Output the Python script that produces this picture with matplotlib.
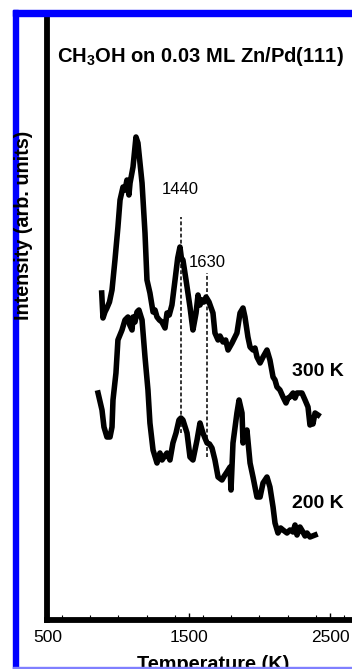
import numpy as np
import matplotlib
matplotlib.use('Agg')
import matplotlib.pyplot as plt
from matplotlib.patches import Rectangle
from matplotlib.ticker import FixedLocator, MultipleLocator

plt.rcParams['font.family'] = ['Liberation Sans', 'DejaVu Sans']
plt.rcParams['mathtext.fontset'] = 'custom'
plt.rcParams['mathtext.rm'] = 'Liberation Sans'
plt.rcParams['mathtext.bf'] = 'Liberation Sans:bold'

# Espectro a 300 K (temperatura en K, intensidad en unidades arbitrarias)
t_300 = [881, 890, 904, 918, 936, 954, 975, 996, 1011, 1032, 1046, 1060, 1074, 1082, 1103,
         1124, 1138, 1167, 1188, 1202, 1223, 1245, 1259, 1273, 1290, 1308, 1330, 1344,
         1360, 1379, 1401, 1420, 1436, 1446, 1457, 1479, 1507, 1528, 1550, 1564, 1578,
         1592, 1606, 1621, 1642, 1670, 1684, 1706, 1720, 1741, 1760, 1777, 1805, 1840,
         1862, 1883, 1897, 1918, 1933, 1954, 1968, 1982, 2004, 2025, 2053, 2074, 2096,
         2110, 2124, 2145, 2167, 2188, 2202, 2216, 2238, 2252, 2266, 2301, 2323, 2344,
         2358, 2372, 2379, 2394, 2415]
i_300 = [3.27, 3.02, 3.08, 3.12, 3.18, 3.30, 3.60, 3.93, 4.20, 4.33, 4.30, 4.40, 4.25, 4.37,
         4.53, 4.83, 4.77, 4.37, 3.87, 3.40, 3.27, 3.08, 3.10, 3.03, 3.00, 2.98, 2.92,
         3.07, 3.05, 3.15, 3.40, 3.62, 3.73, 3.62, 3.60, 3.40, 3.13, 2.90, 3.07, 3.25,
         3.15, 3.20, 3.18, 3.23, 3.18, 3.07, 2.87, 2.80, 2.84, 2.78, 2.80, 2.70, 2.77,
         2.87, 3.07, 3.12, 3.03, 2.83, 2.73, 2.70, 2.72, 2.63, 2.57, 2.63, 2.70, 2.60,
         2.43, 2.40, 2.33, 2.30, 2.23, 2.17, 2.22, 2.23, 2.27, 2.22, 2.27, 2.27, 2.20,
         2.13, 1.95, 2.00, 1.96, 2.07, 2.05]

# Espectro a 200 K
t_200 = [855, 883, 897, 918, 940, 954, 961, 982, 996, 1025, 1046, 1067, 1080, 1096, 1103,
         1117, 1131, 1145, 1167, 1188, 1209, 1223, 1245, 1273, 1294, 1309, 1323, 1344,
         1365, 1386, 1408, 1429, 1443, 1457, 1486, 1507, 1528, 1557, 1578, 1599, 1613,
         1628, 1645, 1663, 1684, 1706, 1734, 1750, 1769, 1791, 1798, 1812, 1840, 1855,
         1876, 1883, 1911, 1933, 1954, 1982, 2004, 2025, 2053, 2074, 2096, 2110, 2131,
         2150, 2167, 2195, 2216, 2238, 2252, 2266, 2287, 2308, 2323, 2337, 2358, 2394]
i_200 = [2.27, 2.10, 1.93, 1.83, 1.83, 1.93, 2.20, 2.47, 2.80, 2.90, 3.00, 3.03, 2.95, 2.90,
         3.03, 2.98, 3.08, 3.10, 3.00, 2.63, 2.30, 1.97, 1.70, 1.57, 1.67, 1.60, 1.63,
         1.67, 1.60, 1.77, 1.87, 2.00, 2.02, 2.00, 1.87, 1.63, 1.60, 1.80, 1.97, 1.87,
         1.82, 1.77, 1.76, 1.72, 1.60, 1.43, 1.40, 1.44, 1.48, 1.53, 1.30, 1.77, 2.07,
         2.20, 2.07, 1.77, 1.90, 1.57, 1.43, 1.23, 1.23, 1.37, 1.43, 1.33, 1.13, 0.97,
         0.87, 0.92, 0.90, 0.87, 0.90, 0.88, 0.95, 0.85, 0.93, 0.88, 0.84, 0.87, 0.83,
         0.85]

# Picos marcados: posicion, extremo superior e inferior de la linea punteada
picos = [1440, 1630]
pico_sup = [4.03, 3.47]
pico_inf = [1.87, 1.63]
etiq_y = [4.31, 3.57]

# Ticks del eje x
ticks_x = [500, 1500, 2500]

W, H = 352, 669
fig = plt.figure(figsize=(W / 100, H / 100), dpi=100)


def px(x, y):
    # pixeles (desde arriba a la izquierda) a fraccion de figura
    return x / W, 1 - y / H


ax = fig.add_axes([47 / W, 49 / H, 305 / W, 604 / H])
ax.plot(t_300, i_300, color='black', lw=4, solid_joinstyle='round')
ax.plot(t_200, i_200, color='black', lw=4, solid_joinstyle='round')

for p, s, i, ey in zip(picos, pico_sup, pico_inf, etiq_y):
    ax.plot([p, p], [i, s], color='black', lw=1.1, ls=(0, (2.5, 1.5)))
    ax.text(p, ey, str(p), ha='center', va='center', fontsize=12)

ax.text(2230, 2.48, '300 K', fontsize=14, fontweight='bold', va='center')
ax.text(2230, 1.17, '200 K', fontsize=14, fontweight='bold', va='center')

ax.set_xlim(493, 2656)
ax.set_ylim(0, 6.04)
ax.spines['top'].set_visible(False)
ax.spines['right'].set_visible(False)
for s in ['left', 'bottom']:
    ax.spines[s].set_linewidth(4.2)
ax.set_yticks([])
ax.xaxis.set_major_locator(FixedLocator(ticks_x))
ax.xaxis.set_minor_locator(MultipleLocator(200))
ax.tick_params(axis='x', which='major', direction='in', length=5, width=1, pad=7, labelsize=12.5)
ax.tick_params(axis='x', which='minor', direction='in', length=3.5, width=0.8)

fig.text(*px(200, 57), r'CH$_\mathbf{3}$OH on 0.03 ML Zn/Pd(111)', ha='center', va='center',
         fontsize=14.5, fontweight='bold')
fig.text(*px(24, 225), 'Intensity (arb. units)', rotation=90, ha='center', va='center',
         fontsize=14.2, fontweight='bold')
fig.text(*px(213, 655), 'Temperature (K)', ha='center', va='top', fontsize=14.3,
         fontweight='bold')

# marco azul
fig.patches.append(Rectangle(px(13, 669), 5 / W, 659 / H, transform=fig.transFigure,
                             color='#0000ff', zorder=0))
fig.patches.append(Rectangle(px(13, 16), (W - 13) / W, 6 / H, transform=fig.transFigure,
                             color='#0000ff', zorder=5))
fig.patches.append(Rectangle(px(13, 668), (W - 13) / W, 1.2 / H, transform=fig.transFigure,
                             color='#8080ff', zorder=5))

fig.savefig('out.png', dpi=100)
